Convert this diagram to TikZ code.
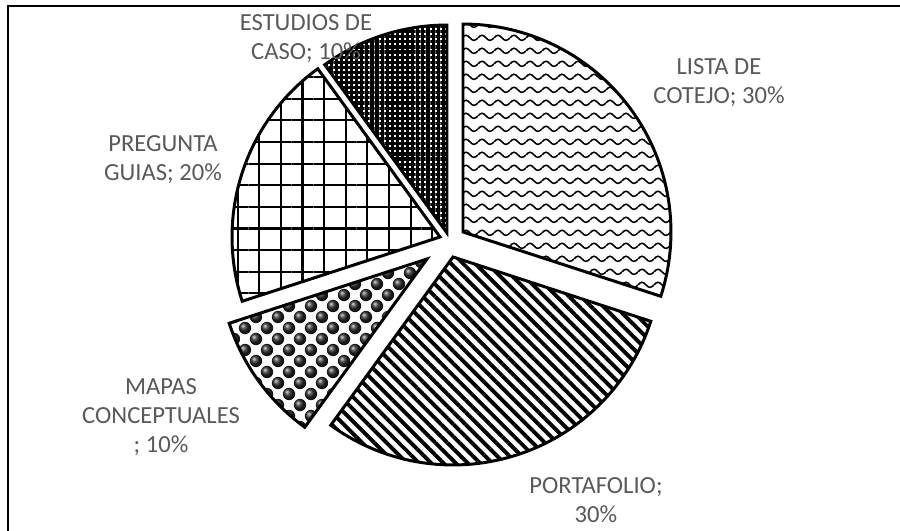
\documentclass[tikz,border=0pt]{standalone}
\usepackage{fontspec}
\setmainfont{Carlito}
\usetikzlibrary{patterns,patterns.meta}
\definecolor{labgray}{HTML}{595959}

\tikzdeclarepattern{
  name=waves,
  type=uncolored,
  bottom left={(0pt,0pt)},
  top right={(9.07pt,7.2pt)},
  tile size={(9.07pt,7.2pt)},
  code={
    \draw[line width=0.9pt] (0pt,3.6pt) sin (2.27pt,5.1pt) cos (4.54pt,3.6pt) sin (6.8pt,2.1pt) cos (9.07pt,3.6pt);
  }
}

\begin{document}
\begin{tikzpicture}[x=0.02cm,y=0.02cm,
  slice/.style={draw=black,line width=1.7pt,line join=miter},
  lab/.style={text=labgray,align=center,font=\fontsize{14pt}{16.4pt}\selectfont}]
\def\R{4.16cm}
\useasboundingbox (0,0) rectangle (900,531);
\draw[line width=1.1pt] (900,525) -- (8,525) -- (8,0);
\coordinate (lista) at (463,299);
\coordinate (estudios) at (447,298);
\coordinate (pregunta) at (440,294);
\coordinate (mapas) at (427,272);
\coordinate (porta) at (453,274);
\path[slice,pattern=waves] (lista) -- ++(90:\R) arc[start angle=90,end angle=-18,radius=\R] -- cycle;
\path[slice,pattern={Lines[angle=-45,distance=4.9pt,line width=2.2pt]}] (porta) -- ++(-18:\R) arc[start angle=-18,end angle=-126,radius=\R] -- cycle;
\begin{scope}
\clip (mapas) -- ++(234:\R) arc[start angle=234,end angle=198,radius=\R] -- cycle;
\foreach \j in {0,...,20}
  \foreach \i in {0,...,10}
    \shade[ball color=black!85] ({212+22*\i+11*mod(\j,2)},{60+11*\j}) circle (6.2);
\end{scope}
\draw[slice] (mapas) -- ++(234:\R) arc[start angle=234,end angle=198,radius=\R] -- cycle;
\path[slice,pattern={Hatch[angle=0,distance=12.3pt,line width=1.2pt]}] (pregunta) -- ++(198:\R) arc[start angle=198,end angle=126,radius=\R] -- cycle;
\path[slice,pattern={Hatch[angle=0,distance=2.9pt,line width=1.8pt]}] (estudios) -- ++(126:\R) arc[start angle=126,end angle=90,radius=\R] -- cycle;
\node[lab] (l1) at (719,448) {LISTA DE\\COTEJO; 30\%};
\node[lab] (l2) at (596,31) {PORTAFOLIO;\\30\%};
\node[lab] (l3) at (161,114) {MAPAS\\CONCEPTUALES\\; 10\%};
\node[lab] (l4) at (163,371) {PREGUNTA\\GUIAS; 20\%};
\node[lab] (l5) at (306,492) {ESTUDIOS DE\\CASO; 10\%};
\end{tikzpicture}
\end{document}
